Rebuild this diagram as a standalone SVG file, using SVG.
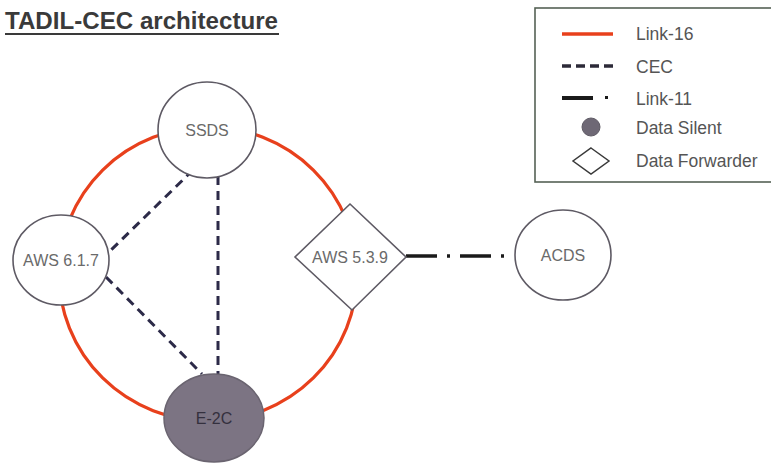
<svg xmlns="http://www.w3.org/2000/svg" width="771" height="464" viewBox="0 0 771 464">
<style>
  .lbl{font-family:"Liberation Sans",Arial,sans-serif;font-size:16px;fill:#6a6a6a;text-anchor:middle}
  .leg{font-family:"Liberation Sans",Arial,sans-serif;font-size:17.5px;fill:#555}
  .node{fill:#fff;stroke:#5e5a64;stroke-width:1.6}
  .l16{fill:none;stroke:#e8401c;stroke-width:3.2}
  .cec{fill:none;stroke:#2c2a48;stroke-width:3;stroke-dasharray:9 6}
  .l11{fill:none;stroke:#1a1a1a;stroke-width:3.6;stroke-dasharray:31 10 3 10}
</style>
<rect width="771" height="464" fill="#fff"/>
<g id="title">
  <text x="5" y="29" font-family="Liberation Sans,Arial,sans-serif" font-size="23.5" font-weight="bold" fill="#3a3a3a" textLength="273" lengthAdjust="spacingAndGlyphs">TADIL-CEC architecture</text>
  <line x1="5" y1="34" x2="279" y2="34" stroke="#3a3a3a" stroke-width="1.8"/>
</g>
<g id="connectors">
  <ellipse class="l16" cx="208" cy="274" rx="149" ry="147"/>
  <line class="cec" x1="193" y1="170" x2="108" y2="253"/>
  <line class="cec" x1="106" y1="277" x2="202" y2="374"/>
  <line class="cec" x1="218" y1="176" x2="218" y2="375"/>
  <line class="l11" x1="406" y1="256" x2="510" y2="256"/>
</g>
<g id="SSDS">
  <ellipse class="node" cx="207" cy="130" rx="49" ry="48"/>
  <text class="lbl" x="207" y="136">SSDS</text>
</g>
<g id="AWS617">
  <ellipse class="node" cx="61" cy="260" rx="48" ry="45"/>
  <text class="lbl" x="61" y="266">AWS 6.1.7</text>
</g>
<g id="AWS539">
  <polygon class="node" points="350,204 406,257 352,310 295,257"/>
  <text class="lbl" x="350" y="263">AWS 5.3.9</text>
</g>
<g id="ACDS">
  <ellipse class="node" cx="563" cy="255" rx="48" ry="45"/>
  <text class="lbl" x="563" y="261">ACDS</text>
</g>
<g id="E2C">
  <ellipse cx="214" cy="418" rx="50" ry="44" fill="#7c7483" stroke="#6a6470" stroke-width="1.5"/>
  <text class="lbl" x="214" y="424" style="fill:#34303e">E-2C</text>
</g>
<g id="legend">
  <rect x="535" y="8" width="245" height="174" fill="#fff" stroke="#556255" stroke-width="1.6"/>
  <line x1="562" y1="34" x2="613" y2="34" stroke="#e8401c" stroke-width="3.4"/>
  <text class="leg" x="636" y="40">Link-16</text>
  <line x1="562" y1="66" x2="613" y2="66" stroke="#2c2a38" stroke-width="3.4" stroke-dasharray="9 5"/>
  <text class="leg" x="636" y="73">CEC</text>
  <line x1="562" y1="98" x2="593" y2="98" stroke="#1a1a1a" stroke-width="4"/>
  <rect x="605" y="96" width="3" height="3" fill="#1a1a1a"/>
  <text class="leg" x="636" y="105">Link-11</text>
  <circle cx="591" cy="127" r="9" fill="#6e6875" stroke="#5e5a64" stroke-width="1"/>
  <text class="leg" x="636" y="134">Data Silent</text>
  <polygon points="591,148 609,161 591,174 573,161" fill="#fff" stroke="#3a3a3a" stroke-width="1.5"/>
  <text class="leg" x="636" y="167">Data Forwarder</text>
</g>
</svg>
